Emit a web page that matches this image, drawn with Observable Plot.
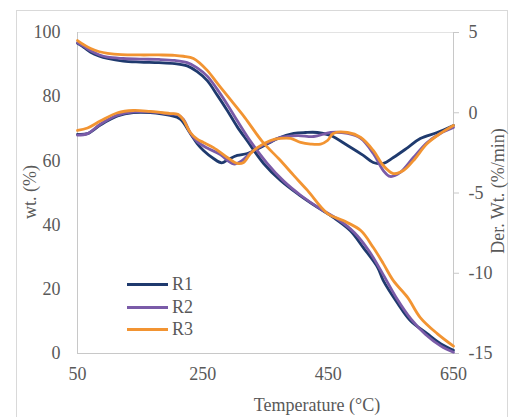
<!DOCTYPE html>
<html><head><meta charset="utf-8">
<script src="https://cdn.jsdelivr.net/npm/d3@7"></script>
<script src="https://cdn.jsdelivr.net/npm/@observablehq/plot@0.6"></script>
<style>
body{margin:0;background:#fff;}
#wrap{position:relative;width:511px;height:417px;overflow:hidden;font-family:"Liberation Serif","Times New Roman",serif;color:#595959;}
#wrap svg{position:absolute;left:0;top:0;font-family:"Liberation Serif","Times New Roman",serif !important;}
#wrap svg text{font-family:"Liberation Serif","Times New Roman",serif !important;}
.outer{position:absolute;left:16px;top:10px;width:492px;height:430px;border:1px solid #d9d9d9;box-sizing:border-box;}
.lab{position:absolute;font-size:18px;white-space:nowrap;line-height:1;}
.leg{position:absolute;left:127px;font-size:18px;line-height:1;display:flex;align-items:center;}
.leg span.sw{display:inline-block;width:41px;height:3px;margin-right:4px;}
</style></head><body><div id="wrap"><div class="outer"></div></div>
<script>
// Temperature ticks
const xTicks = [50, 250, 450, 650];
const wtTicks = [0, 20, 40, 60, 80, 100];
const dtgTicks = [-15, -10, -5, 0, 5];
const seriesNames = ["R1", "R2", "R3"];
const colors = ["#1f3a6e", "#7a5ba8", "#f29432"];

// TGA (wt. %)
const tgaT_R1 = [50, 60, 71, 85, 98, 123, 150, 180, 205, 225, 241, 257, 273, 289, 305, 321, 347, 374, 403, 433, 458, 485, 506, 529, 538, 561, 581, 608, 630, 650];
const tga_R1  = [96.6, 95.4, 93.8, 92.6, 91.9, 91.1, 90.8, 90.6, 90.3, 89.6, 87.8, 85.0, 80.5, 75.7, 70.6, 66.2, 59.2, 53.9, 49.5, 45.5, 42.4, 38.3, 33.0, 26.8, 22.7, 15.6, 10.3, 6.2, 3.0, 1.0];
const tgaT_R2 = [50, 60, 71, 85, 98, 123, 150, 180, 205, 225, 241, 257, 273, 289, 305, 325, 352, 379, 406, 438, 465, 492, 515, 538, 560, 582, 605, 630, 650];
const tga_R2  = [96.8, 95.7, 94.3, 93.0, 92.3, 91.9, 91.7, 91.6, 91.3, 90.6, 89.0, 86.4, 82.3, 77.6, 72.5, 66.4, 59.4, 53.7, 49.3, 45.0, 41.9, 37.6, 32.0, 24.5, 17.0, 10.8, 6.0, 2.3, 0.4];
const tgaT_R3 = [50, 60, 71, 85, 98, 120, 150, 180, 205, 219, 235, 257, 273, 289, 317, 345, 372, 395, 417, 449, 474, 502, 522, 538, 554, 577, 597, 624, 650];
const tga_R3  = [97.5, 96.2, 95.0, 94.0, 93.5, 93.1, 93.0, 93.0, 92.9, 92.6, 91.9, 88.2, 84.2, 80.3, 73.5, 66.0, 60.5, 55.5, 50.8, 43.6, 41.4, 38.3, 33.0, 28.0, 22.7, 17.4, 11.2, 6.2, 2.3];

// DTG (Der. Wt. %/min)
const dtgT_R1 = [50, 66, 87, 114, 139, 166, 198, 214, 230, 241, 251, 267, 280, 291, 305, 321, 342, 369, 395, 414, 433, 454, 481, 506, 522, 538, 554, 577, 597, 624, 650];
const dtg_R1  = [-1.35, -1.3, -0.75, -0.2, 0.01, 0.01, -0.17, -0.4, -1.29, -1.92, -2.35, -2.85, -3.12, -2.9, -2.66, -2.54, -2.17, -1.61, -1.29, -1.23, -1.23, -1.42, -2.04, -2.66, -3.1, -3.16, -2.79, -2.17, -1.61, -1.23, -0.79];
const dtgT_R2 = [50, 66, 87, 114, 139, 166, 198, 210, 219, 230, 241, 257, 278, 290, 300, 312, 326, 342, 358, 374, 401, 427, 454, 481, 502, 522, 538, 549, 565, 586, 608, 629, 650];
const dtg_R2  = [-1.4, -1.3, -0.7, -0.15, 0.05, 0.05, -0.08, -0.12, -0.42, -1.25, -1.8, -2.2, -2.6, -3.0, -3.2, -3.0, -2.5, -2.1, -1.8, -1.54, -1.42, -1.48, -1.23, -1.29, -1.6, -2.54, -3.6, -3.97, -3.72, -2.79, -1.85, -1.29, -0.92];
const dtgT_R3 = [50, 66, 87, 114, 139, 166, 198, 210, 219, 230, 241, 251, 267, 289, 305, 315, 326, 337, 358, 374, 390, 406, 422, 438, 449, 458, 481, 502, 522, 538, 554, 570, 586, 608, 629, 650];
const dtg_R3  = [-1.1, -0.95, -0.5, 0.0, 0.14, 0.08, -0.05, -0.1, -0.45, -1.23, -1.65, -1.85, -2.17, -2.79, -3.16, -3.1, -2.54, -2.17, -1.73, -1.6, -1.6, -1.85, -1.95, -1.95, -1.73, -1.29, -1.23, -1.54, -2.35, -3.29, -3.79, -3.6, -2.98, -1.92, -1.29, -0.79];

// map DTG range [-15,5] onto wt range [0,100]
const toWt = d => (d + 15) * 5;
const fromWt = w => w / 5 - 15;

function rows(Ts, vs, name, f = v => v) {
  return Ts.map((t, i) => ({T: t, v: f(vs[i]), name}));
}
const tga = [
  rows(tgaT_R1, tga_R1, "R1"),
  rows(tgaT_R2, tga_R2, "R2"),
  rows(tgaT_R3, tga_R3, "R3")
];
const dtg = [
  rows(dtgT_R1, dtg_R1, "R1", toWt),
  rows(dtgT_R2, dtg_R2, "R2", toWt),
  rows(dtgT_R3, dtg_R3, "R3", toWt)
];

const lineMarks = [];
for (let i = 0; i < 3; i++) {
  lineMarks.push(Plot.line(dtg[i], {x: "T", y: "v", stroke: colors[i], strokeWidth: 2.8, curve: "catmull-rom"}));
  lineMarks.push(Plot.line(tga[i], {x: "T", y: "v", stroke: colors[i], strokeWidth: 2.8, curve: "catmull-rom"}));
}

const chart = Plot.plot({
  width: 511, height: 417,
  marginLeft: 77, marginRight: 58, marginTop: 32, marginBottom: 64,
  x: {domain: [50, 650]},
  y: {domain: [0, 100]},
  style: {fontSize: "18px", color: "#595959", background: "transparent"},
  marks: [
    Plot.frame({stroke: "#e3e3e3"}),
    Plot.ruleX([50], {stroke: "#c8c8c8"}),
    Plot.ruleX([650], {stroke: "#c8c8c8"}),
    Plot.ruleY([0], {stroke: "#c8c8c8"}),
    Plot.axisX({ticks: xTicks, tickSize: 0, tickPadding: 14, label: null, tickFormat: d => String(d)}),
    Plot.axisY({ticks: wtTicks, tickSize: 0, tickPadding: 17, label: null, tickFormat: d => String(d)}),
    Plot.axisY({anchor: "right", ticks: dtgTicks.map(toWt), tickFormat: w => String(fromWt(w)), tickSize: 5, tickPadding: 10, label: null, stroke: "#c8c8c8", fill: "#595959"}),
    ...lineMarks
  ]
});
const wrap = document.getElementById("wrap");
wrap.appendChild(chart);

function addLabel(text, cx, cy, rot) {
  const d = document.createElement("div");
  d.className = "lab";
  d.textContent = text;
  d.style.left = cx + "px";
  d.style.top = cy + "px";
  d.style.transform = "translate(-50%,-50%)" + (rot ? " rotate(" + rot + "deg)" : "");
  wrap.appendChild(d);
}
addLabel("Temperature (\u00B0C)", 317, 405, 0);
addLabel("wt. (%)", 30, 192, -90);
addLabel("Der. Wt. (%/min)", 498, 191, -90);

const legTops = [284, 307, 329];
seriesNames.forEach((n, i) => {
  const d = document.createElement("div");
  d.className = "leg";
  d.style.top = (legTops[i] - 9) + "px";
  d.style.height = "18px";
  const sw = document.createElement("span");
  sw.className = "sw";
  sw.style.background = colors[i];
  d.appendChild(sw);
  d.appendChild(document.createTextNode(n));
  wrap.appendChild(d);
});
</script></body></html>
